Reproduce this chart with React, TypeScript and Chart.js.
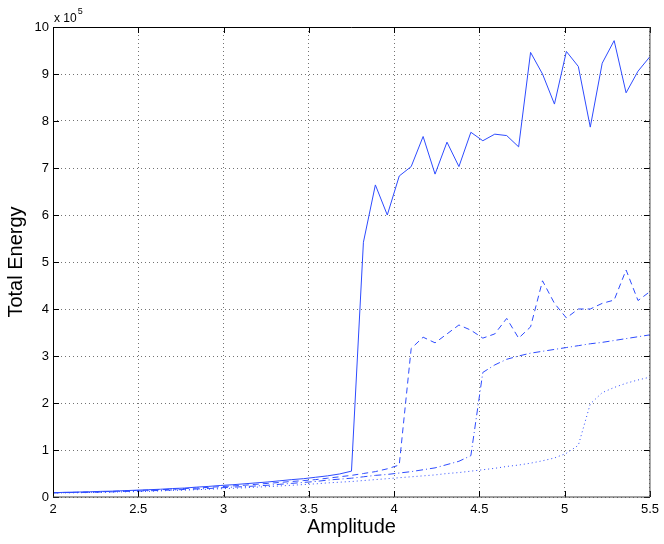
import React, { useEffect, useRef } from 'react';
import { Chart, registerables } from 'chart.js';

Chart.register(...registerables);

// Amplitude sample points
const amplitude = [
  2.00, 2.07, 2.14, 2.21, 2.28, 2.35, 2.42, 2.49, 2.56, 2.63,
  2.70, 2.77, 2.84, 2.91, 2.98, 3.05, 3.12, 3.19, 3.26, 3.33,
  3.40, 3.47, 3.54, 3.61, 3.68, 3.75, 3.82, 3.89, 3.96, 4.03,
  4.10, 4.17, 4.24, 4.31, 4.38, 4.45, 4.52, 4.59, 4.66, 4.73,
  4.80, 4.87, 4.94, 5.01, 5.08, 5.15, 5.22, 5.29, 5.36, 5.43, 5.50,
];

// Total energy (x 10^5)
const energySolid = [
  0.09, 0.10, 0.105, 0.11, 0.12, 0.125, 0.135, 0.145, 0.155, 0.165,
  0.18, 0.19, 0.21, 0.225, 0.245, 0.26, 0.28, 0.30, 0.32, 0.345,
  0.37, 0.39, 0.42, 0.45, 0.49, 0.55, 5.42, 6.64, 6.00, 6.83,
  7.03, 7.67, 6.87, 7.55, 7.03, 7.76, 7.58, 7.72, 7.69, 7.45,
  9.46, 9.00, 8.36, 9.48, 9.16, 7.87, 9.23, 9.71, 8.60, 9.06, 9.37,
];

const energyDashed = [
  0.09, 0.095, 0.10, 0.105, 0.11, 0.12, 0.13, 0.14, 0.145, 0.155,
  0.165, 0.18, 0.19, 0.205, 0.22, 0.235, 0.25, 0.27, 0.29, 0.31,
  0.33, 0.35, 0.37, 0.40, 0.43, 0.46, 0.50, 0.54, 0.60, 0.68,
  3.16, 3.40, 3.28, 3.47, 3.66, 3.55, 3.38, 3.47, 3.80, 3.38,
  3.62, 4.60, 4.12, 3.81, 4.00, 4.00, 4.12, 4.19, 4.83, 4.18, 4.37,
];

const energyDashDot = [
  0.09, 0.093, 0.097, 0.10, 0.105, 0.11, 0.118, 0.125, 0.132, 0.14,
  0.15, 0.16, 0.17, 0.18, 0.195, 0.21, 0.22, 0.235, 0.25, 0.27,
  0.29, 0.31, 0.33, 0.36, 0.38, 0.40, 0.43, 0.46, 0.48, 0.51,
  0.54, 0.58, 0.62, 0.69, 0.76, 0.88, 2.65, 2.81, 2.93, 3.00,
  3.06, 3.10, 3.14, 3.18, 3.22, 3.26, 3.29, 3.33, 3.37, 3.41, 3.45,
];

const energyDotted = [
  0.085, 0.088, 0.09, 0.095, 0.10, 0.105, 0.11, 0.115, 0.12, 0.13,
  0.14, 0.145, 0.155, 0.165, 0.175, 0.185, 0.195, 0.21, 0.22, 0.235,
  0.25, 0.265, 0.28, 0.30, 0.315, 0.33, 0.35, 0.37, 0.39, 0.41,
  0.43, 0.45, 0.47, 0.50, 0.52, 0.55, 0.58, 0.61, 0.65, 0.68,
  0.72, 0.77, 0.83, 0.93, 1.10, 1.98, 2.22, 2.33, 2.42, 2.49, 2.55,
];

const xTickValues = [2, 2.5, 3, 3.5, 4, 4.5, 5, 5.5];
const yTickValues = [0, 1, 2, 3, 4, 5, 6, 7, 8, 9, 10];

const LINE_COLOR = 'rgb(45, 75, 255)';
const FONT = '"Liberation Sans", Arial, Helvetica, sans-serif';

const boxPlugin = {
  id: 'matlabBox',
  afterDraw(chart: any) {
    const { ctx, chartArea, scales } = chart;
    const { left, right, top, bottom } = chartArea;
    const tl = 6;
    ctx.save();
    ctx.strokeStyle = '#000';
    ctx.lineWidth = 1;
    ctx.setLineDash([]);
    ctx.beginPath();
    scales.x.ticks.forEach((t: any) => {
      const px = Math.round(scales.x.getPixelForValue(t.value)) + 0.5;
      ctx.moveTo(px, bottom);
      ctx.lineTo(px, bottom - tl);
      ctx.moveTo(px, top);
      ctx.lineTo(px, top + tl);
    });
    scales.y.ticks.forEach((t: any) => {
      const py = Math.round(scales.y.getPixelForValue(t.value)) + 0.5;
      ctx.moveTo(left, py);
      ctx.lineTo(left + tl, py);
      ctx.moveTo(right, py);
      ctx.lineTo(right - tl, py);
    });
    ctx.stroke();
    // box
    ctx.beginPath();
    ctx.moveTo(left + 0.5, bottom);
    ctx.lineTo(left + 0.5, top + 0.5);
    ctx.lineTo(right, top + 0.5);
    ctx.stroke();
    ctx.strokeStyle = '#444';
    ctx.beginPath();
    ctx.moveTo(right, top);
    ctx.lineTo(right, bottom);
    ctx.lineTo(left, bottom);
    ctx.stroke();
    // exponent label
    ctx.fillStyle = '#000';
    ctx.textBaseline = 'alphabetic';
    ctx.textAlign = 'left';
    ctx.font = `12px ${FONT}`;
    const base = 'x 10';
    ctx.fillText(base, left + 1, top - 5);
    const w = ctx.measureText(base).width;
    ctx.font = `9px ${FONT}`;
    ctx.fillText('5', left + 1 + w + 1, top - 13);
    ctx.restore();
  },
};

function makeData(values: number[]) {
  return amplitude.map((x, i) => ({ x, y: values[i] }));
}

export default function App() {
  const canvasRef = useRef<HTMLCanvasElement | null>(null);

  useEffect(() => {
    if (!canvasRef.current) return;
    const common = {
      borderColor: LINE_COLOR,
      borderWidth: 1,
      pointRadius: 0,
      tension: 0,
      fill: false,
    };
    const chart = new Chart(canvasRef.current, {
      type: 'line',
      data: {
        datasets: [
          { ...common, label: 'solid', data: makeData(energySolid) },
          { ...common, label: 'dashed', data: makeData(energyDashed), borderDash: [6, 4] },
          { ...common, label: 'dashdot', data: makeData(energyDashDot), borderDash: [7, 3, 1, 3] },
          { ...common, label: 'dotted', data: makeData(energyDotted), borderDash: [1, 3] },
        ],
      },
      options: {
        animation: false,
        responsive: false,
        maintainAspectRatio: false,
        events: [],
        layout: { padding: { top: 27, right: 13, left: 0, bottom: 0 } },
        plugins: {
          legend: { display: false },
          tooltip: { enabled: false },
        },
        scales: {
          x: {
            type: 'linear',
            min: 2,
            max: 5.5,
            afterBuildTicks: (scale: any) => {
              scale.ticks = xTickValues.map((v) => ({ value: v }));
            },
            afterFit: (scale: any) => {
              scale.height = 47;
            },
            ticks: {
              color: '#000',
              font: { family: FONT, size: 13 },
              padding: 5,
              maxRotation: 0,
              autoSkip: false,
              callback: (v: any) => String(v),
            },
            grid: {
              color: 'rgba(0,0,0,0.55)',
              lineWidth: 1,
              drawTicks: false,
            },
            border: { display: false, dash: [1, 3] },
            title: {
              display: true,
              text: 'Amplitude',
              color: '#000',
              font: { family: FONT, size: 20 },
              padding: { top: 0, bottom: 5 },
            },
          },
          y: {
            type: 'linear',
            min: 0,
            max: 10,
            afterBuildTicks: (scale: any) => {
              scale.ticks = yTickValues.map((v) => ({ value: v }));
            },
            afterFit: (scale: any) => {
              scale.width = 53;
            },
            ticks: {
              color: '#000',
              font: { family: FONT, size: 13 },
              padding: 4,
              autoSkip: false,
              callback: (v: any) => String(v),
            },
            grid: {
              color: 'rgba(0,0,0,0.55)',
              lineWidth: 1,
              drawTicks: false,
            },
            border: { display: false, dash: [1, 3] },
            title: {
              display: true,
              text: 'Total Energy',
              color: '#000',
              font: { family: FONT, size: 20 },
              padding: { top: 4, bottom: 0 },
            },
          },
        },
      },
      plugins: [boxPlugin],
    } as any);
    return () => chart.destroy();
  }, []);

  return (
    <div style={{ position: 'fixed', left: 0, top: 0, width: 664, height: 544, background: '#fff' }}>
      <canvas ref={canvasRef} width={664} height={544} style={{ width: 664, height: 544, display: 'block' }} />
    </div>
  );
}
